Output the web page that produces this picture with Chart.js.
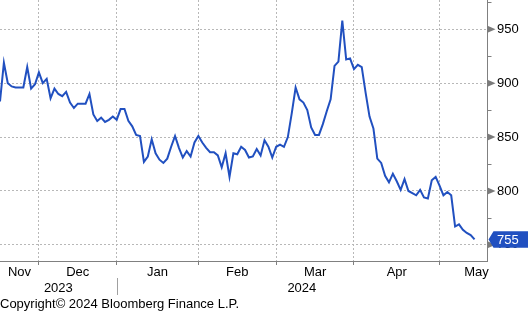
<!DOCTYPE html>
<html>
<head>
<meta charset="utf-8">
<script src="https://cdn.jsdelivr.net/npm/chart.js@4"></script>
<style>
  html, body { margin: 0; padding: 0; background: #fff; }
</style>
</head>
<body>
<canvas id="PriceChart" width="528" height="313"></canvas>
<script>
// one value per US trading day, 16 Nov 2023 -> 14 May 2024
const values = [
  883, 919, 900, 897, 896, 896, 896, 915, 895, 899,
  910, 900, 904, 886, 895, 890, 888, 892, 882, 877,
  881, 881, 881, 890, 871, 865, 868, 864, 866, 869,
  866, 876, 876, 865, 860, 852, 851, 827, 832, 848,
  835, 829, 826, 830, 841, 851, 840, 831, 837, 832,
  845, 851, 845, 840, 836, 836, 833, 822, 835, 813,
  835, 834, 841, 838, 831, 832, 839, 833, 847, 841,
  831, 841, 843, 841, 850, 872, 896, 885, 882, 875,
  859, 852, 852, 862, 874, 885, 916, 920, 958, 922,
  923, 913, 917, 915, 891, 869, 858, 830, 826, 814,
  808, 816, 809, 801, 811, 800, 798, 796, 801, 794,
  793, 810, 813, 805, 796, 799, 796, 767, 769, 764,
  761, 759, 755,
];

// month boundaries (trading-day index of the 1st session of each month)
const monthStarts = [10, 30, 51, 71, 91, 113];
const monthLabels = ["Nov", "Dec", "Jan", "Feb", "Mar", "Apr", "May"];
const monthLabelPos = [5, 20, 40.5, 61, 81, 102, 122.5];
const yearLabels = ["2023", "2024"];
const yearLabelPos = [15, 77.6];
const yearBreak = 30;

const majorTicks = [750, 800, 850, 900, 950];
const minorTicks = [775, 825, 875, 925, 975];
const lastValueText = "755";

const LINE_BLUE = "#2150c0";
const GRID_GREY = "#b8b8b8";
const AXIS_GREY = "#808080";

Chart.defaults.font.family = "'Liberation Sans', Arial, sans-serif";
Chart.defaults.font.size = 13;
Chart.defaults.color = "#000";

const xTicks = []
  .concat(monthStarts, monthLabelPos, yearLabelPos)
  .sort(function (a, b) { return a - b; });

function xLabel(v) {
  let i = monthLabelPos.indexOf(v);
  if (i >= 0) return monthLabels[i];
  i = yearLabelPos.indexOf(v);
  if (i >= 0) return ["", yearLabels[i]];
  return "";
}

const bbgMarks = {
  id: "bbgMarks",
  afterDraw(chart) {
    const ctx = chart.ctx;
    const y = chart.scales.y;
    const x = chart.scales.x;
    const ax = Math.round(y.left) + 0.5;
    ctx.save();

    // minor ticks on the value axis
    ctx.strokeStyle = AXIS_GREY;
    ctx.lineWidth = 1;
    minorTicks.forEach(function (v) {
      const py = Math.round(y.getPixelForValue(v)) + 0.5;
      ctx.beginPath();
      ctx.moveTo(ax, py);
      ctx.lineTo(ax + 4, py);
      ctx.stroke();
    });

    // little pointers at the labelled ticks
    ctx.fillStyle = "#7a7a7a";
    majorTicks.forEach(function (v) {
      const py = y.getPixelForValue(v);
      ctx.beginPath();
      ctx.moveTo(ax, py - 3.5);
      ctx.lineTo(ax + 8, py);
      ctx.lineTo(ax, py + 3.5);
      ctx.closePath();
      ctx.fill();
    });

    // year separator under the month row
    const bx = Math.round(x.getPixelForValue(yearBreak)) + 0.5;
    ctx.strokeStyle = "#a0a0a0";
    ctx.beginPath();
    ctx.moveTo(bx, 278);
    ctx.lineTo(bx, 295);
    ctx.stroke();

    // last value tag
    const last = values[values.length - 1];
    const py = y.getPixelForValue(last);
    const h = 16.6;
    ctx.fillStyle = LINE_BLUE;
    ctx.beginPath();
    ctx.moveTo(ax + 1, py);
    ctx.lineTo(ax + 6, py - h / 2);
    ctx.lineTo(chart.width, py - h / 2);
    ctx.lineTo(chart.width, py + h / 2);
    ctx.lineTo(ax + 6, py + h / 2);
    ctx.closePath();
    ctx.fill();
    ctx.fillStyle = "#fff";
    ctx.font = "13px 'Liberation Sans', Arial, sans-serif";
    ctx.textBaseline = "middle";
    ctx.textAlign = "left";
    ctx.fillText(lastValueText, ax + 9.5, py + 0.5);

    ctx.restore();
  },
};

const chart = new Chart(document.getElementById("PriceChart"), {
  type: "line",
  data: {
    datasets: [
      {
        data: values.map(function (v, i) { return { x: i, y: v }; }),
        borderColor: LINE_BLUE,
        borderWidth: 2,
        pointRadius: 0,
        fill: false,
        tension: 0,
      },
    ],
  },
  options: {
    responsive: false,
    animation: false,
    devicePixelRatio: 1,
    layout: { padding: 0 },
    plugins: {
      legend: { display: false },
      tooltip: { enabled: false },
      title: {
        display: true,
        text: "Copyright\u00a9 2024 Bloomberg Finance L.P.",
        position: "bottom",
        align: "start",
        color: "#000",
        font: { size: 13, weight: "normal", lineHeight: 1.2 },
        padding: { top: 0, bottom: 1 },
      },
    },
    scales: {
      x: {
        type: "linear",
        position: "bottom",
        min: 0,
        max: 125.2,
        afterBuildTicks: function (s) {
          s.ticks = xTicks.map(function (v) { return { value: v }; });
        },
        afterFit: function (s) {
          s.height = 35.4;
          s.paddingLeft = 0;
          s.paddingRight = 0;
        },
        ticks: {
          autoSkip: false,
          maxRotation: 0,
          padding: 0,
          color: "#000",
          font: { size: 13, lineHeight: 1.2 },
          callback: xLabel,
        },
        grid: {
          color: function (c) {
            return monthStarts.includes(c.tick.value) ? GRID_GREY : "rgba(0,0,0,0)";
          },
          tickColor: function (c) {
            return monthStarts.includes(c.tick.value) ? AXIS_GREY : "rgba(0,0,0,0)";
          },
          tickLength: 4,
        },
        border: { display: true, color: AXIS_GREY, dash: [2, 2] },
      },
      y: {
        position: "right",
        min: 735,
        max: 977.2,
        afterBuildTicks: function (s) {
          s.ticks = majorTicks.concat(minorTicks)
            .sort(function (a, b) { return a - b; })
            .map(function (v) { return { value: v }; });
        },
        afterFit: function (s) {
          s.width = 41;
          s.paddingTop = 0;
          s.paddingBottom = 0;
        },
        ticks: {
          padding: 2,
          color: "#000",
          callback: function (v) {
            return majorTicks.includes(v) ? String(v) : null;
          },
        },
        grid: {
          color: function (c) {
            return majorTicks.includes(c.tick.value) ? GRID_GREY : "rgba(0,0,0,0)";
          },
          tickColor: "rgba(0,0,0,0)",
          tickLength: 8,
        },
        border: { display: true, color: AXIS_GREY, dash: [2, 2] },
      },
    },
  },
  plugins: [bbgMarks],
});
</script>
</body>
</html>
